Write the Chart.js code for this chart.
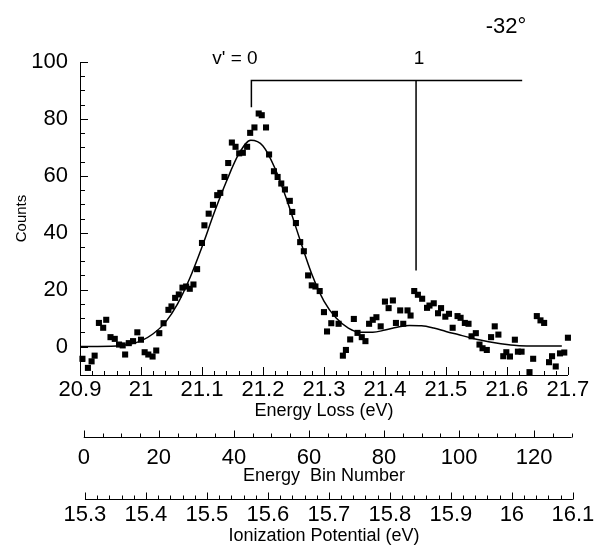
<!DOCTYPE html>
<html>
<head>
<meta charset="utf-8">
<script src="https://cdn.jsdelivr.net/npm/chart.js@4.4.0/dist/chart.umd.min.js"></script>
<style>
    html, body { margin: 0; padding: 0; background: #fff; }
</style>
</head>
<body>
<canvas id="myChart" width="599" height="547"></canvas>
<script>
// datos (Energy Loss en eV, Counts)
const energia = [
    20.904, 20.913, 20.919, 20.924, 20.931, 20.938, 20.943, 20.950, 20.957, 20.964,
    20.970, 20.974, 20.980, 20.987, 20.994, 21.000, 21.006, 21.012, 21.019, 21.025,
    21.030, 21.037, 21.045, 21.050, 21.056, 21.062, 21.068, 21.074, 21.080, 21.086,
    21.092, 21.100, 21.104, 21.111, 21.118, 21.125, 21.130, 21.137, 21.143, 21.149,
    21.155, 21.161, 21.167, 21.174, 21.179, 21.186, 21.193, 21.198, 21.205, 21.210,
    21.218, 21.224, 21.230, 21.236, 21.244, 21.248, 21.254, 21.261, 21.267, 21.274,
    21.280, 21.286, 21.293, 21.300, 21.305, 21.312, 21.318, 21.324, 21.331, 21.336,
    21.343, 21.349, 21.355, 21.362, 21.368, 21.374, 21.380, 21.386, 21.393, 21.400,
    21.406, 21.413, 21.418, 21.425, 21.430, 21.437, 21.442, 21.448, 21.454, 21.461,
    21.469, 21.473, 21.480, 21.487, 21.492, 21.499, 21.505, 21.511, 21.519, 21.524,
    21.531, 21.537, 21.542, 21.549, 21.555, 21.560, 21.567, 21.574, 21.580, 21.586,
    21.594, 21.599, 21.605, 21.613, 21.618, 21.624, 21.637, 21.643, 21.649, 21.655,
    21.661, 21.669, 21.674, 21.680, 21.687, 21.694, 21.700
];
const cuentas = [
    -4.3, -7.5, -5.2, -3.2, 8.3, 6.6, 9.4, 3.3, 2.7, 0.7,
    0.4, -2.8, 1.2, 1.9, 5.0, 2.4, -2.0, -2.8, -3.5, -1.4,
    4.7, 8.2, 12.9, 14.1, 17.1, 18.3, 20.7, 21.1, 20.3, 21.8,
    27.2, 36.4, 42.6, 46.7, 49.8, 53.2, 54.0, 59.6, 64.5, 71.7,
    70.2, 67.9, 68.1, 70.2, 75.1, 77.0, 81.9, 81.3, 77.0, 67.5,
    61.6, 59.6, 57.3, 55.2, 51.2, 47.3, 43.4, 36.7, 33.5, 25.0,
    21.5, 21.1, 19.5, 12.1, 5.3, 8.2, 11.5, 8.0, -3.2, -1.2,
    2.5, 9.7, 4.8, 3.3, 1.9, 8.0, 9.4, 10.3, 7.1, 15.8,
    13.5, 16.2, 8.3, 12.7, 8.0, 12.7, 10.9, 19.5, 18.2, 16.8,
    13.6, 14.4, 15.2, 11.7, 13.5, 10.5, 11.5, 6.6, 10.7, 10.1,
    8.3, 8.0, 3.6, 4.7, 0.7, -0.6, -1.2, 3.3, 7.1, 4.2,
    -3.4, -2.0, -3.5, 2.4, -1.8, -1.8, -9.0, -4.3, 10.7, 9.2,
    8.3, -5.5, -3.4, -7.0, -2.4, -2.1, 3.1
];

// curva de ajuste
const ajusteX = [20.90, 20.96, 20.98, 21.00, 21.02, 21.04, 21.06, 21.08, 21.10, 21.12,
    21.14, 21.16, 21.18, 21.20, 21.22, 21.24, 21.26, 21.28, 21.30, 21.32,
    21.34, 21.36, 21.38, 21.40, 21.42, 21.44, 21.46, 21.48, 21.50, 21.52,
    21.54, 21.56, 21.58, 21.60, 21.62, 21.65, 21.69];
const ajusteY = [0, 0.2, 0.8, 2, 4.5, 8.5, 15, 24, 35, 47,
    58, 67.5, 72.5, 70.5, 62.5, 51, 38, 25.5, 16, 10,
    6.5, 5, 5, 5.8, 6.8, 7.4, 7.3, 6.5, 5.3, 4.2,
    3.1, 2.1, 1.3, 0.7, 0.3, 0.2, 0.2];

// progresion vibracional v' = 0, 1
const vibX = [21.181, 21.451];
const vibBase = [84.1, 26.7];
const vibEtiquetas = ["v' = 0", "1"];
const vibEtiquetaX = [21.154, 21.456];
const vibAltura = 93.5;
const vibFinX = 21.625;

// etiquetas de los ejes
const ticksY = [0, 20, 40, 60, 80, 100];
const ticksEnergia = [20.9, 21, 21.1, 21.2, 21.3, 21.4, 21.5, 21.6, 21.7];
const ticksBin = [0, 20, 40, 60, 80, 100, 120];
const ticksIP = [15.3, 15.4, 15.5, 15.6, 15.7, 15.8, 15.9, 16, 16.1];

const fuente = "'Liberation Sans', Arial, Helvetica, sans-serif";

document.addEventListener('DOMContentLoaded', function () {
    graficar();
});

function linea(ctx, x1, y1, x2, y2) {
    ctx.beginPath();
    ctx.moveTo(x1, y1);
    ctx.lineTo(x2, y2);
    ctx.stroke();
}

function fijarTicks(valores) {
    return function (scale) {
        scale.ticks = valores.map(v => ({ value: v }));
    };
}

// marcas hacia adentro, ejes extra y textos
const pluginEjes = {
    id: 'pluginEjes',
    afterDraw(chart) {
        const ctx = chart.ctx;
        const s = chart.scales;
        ctx.save();
        ctx.strokeStyle = '#000';
        ctx.lineWidth = 1;

        // eje Y
        for (let v = -10; v <= 100; v += 5) {
            const y = Math.round(s.y.getPixelForValue(v)) + 0.5;
            const largo = v % 20 === 0 ? 8 : 5;
            linea(ctx, s.y.right, y, s.y.right + largo, y);
        }

        // eje Energy Loss
        for (let i = 0; i <= 40; i++) {
            const x = Math.round(s.x.getPixelForValue(20.9 + i * 0.02)) + 0.5;
            const largo = i % 5 === 0 ? 8 : 4;
            linea(ctx, x, s.x.top, x, s.x.top - largo);
        }

        // eje Energy Bin Number
        const yBin = Math.round(s.xBin.top) + 0.5;
        linea(ctx, s.xBin.getPixelForValue(0), yBin, s.xBin.getPixelForValue(130), yBin);
        for (let v = 0; v <= 130; v += 5) {
            const x = Math.round(s.xBin.getPixelForValue(v)) + 0.5;
            const largo = v % 20 === 0 ? 7 : 4;
            linea(ctx, x, yBin, x, yBin - largo);
        }

        // eje Ionization Potential
        const yIP = Math.round(s.xIP.top) + 0.5;
        linea(ctx, s.xIP.getPixelForValue(15.3), yIP, s.xIP.getPixelForValue(16.1), yIP);
        for (let i = 0; i <= 40; i++) {
            const x = Math.round(s.xIP.getPixelForValue(15.3 + i * 0.02)) + 0.5;
            const largo = i % 5 === 0 ? 7 : 4;
            linea(ctx, x, yIP, x, yIP - largo);
        }

        // textos
        ctx.fillStyle = '#000';
        ctx.textAlign = 'center';
        ctx.textBaseline = 'middle';
        ctx.font = '19px ' + fuente;
        vibEtiquetas.forEach((t, i) => {
            ctx.fillText(t, s.x.getPixelForValue(vibEtiquetaX[i]), 59);
        });
        ctx.font = '22px ' + fuente;
        ctx.fillText('-32°', 506, 27);
        ctx.restore();
    }
};

function graficar() {
    const puntos = energia.map((e, i) => ({ x: e, y: cuentas[i] }));
    const curva = ajusteX.map((e, i) => ({ x: e, y: ajusteY[i] }));
    const marca0 = [
        { x: vibX[0], y: vibBase[0] },
        { x: vibX[0], y: vibAltura },
        { x: vibFinX, y: vibAltura }
    ];
    const marca1 = [
        { x: vibX[1], y: vibAltura },
        { x: vibX[1], y: vibBase[1] }
    ];

    const estiloLinea = {
        showLine: true,
        borderColor: '#000',
        borderWidth: 1.5,
        pointRadius: 0,
        fill: false
    };

    const tickFont = { family: fuente, size: 22 };
    const tituloFont = { family: fuente, size: 18, lineHeight: 1 };

    const config = {
        type: 'scatter',
        data: {
            datasets: [
                Object.assign({ data: curva, cubicInterpolationMode: 'monotone' }, estiloLinea),
                Object.assign({ data: marca0 }, estiloLinea),
                Object.assign({ data: marca1 }, estiloLinea),
                {
                    data: puntos,
                    pointStyle: 'rect',
                    pointRadius: 4.3,
                    backgroundColor: '#000',
                    borderWidth: 0,
                    clip: false
                }
            ]
        },
        plugins: [pluginEjes],
        options: {
            responsive: false,
            animation: false,
            events: [],
            layout: { padding: { top: 62, right: 27, bottom: 2, left: 0 } },
            plugins: {
                legend: { display: false },
                tooltip: { enabled: false }
            },
            scales: {
                y: {
                    type: 'linear',
                    min: -10,
                    max: 100,
                    afterBuildTicks: fijarTicks(ticksY),
                    afterFit: s => { s.width = 80; },
                    grid: { display: false, drawTicks: false },
                    border: { display: true, color: '#000', width: 1 },
                    ticks: { font: { family: fuente, size: 22, lineHeight: 1 }, color: '#000', padding: 12 },
                    title: {
                        display: true, text: 'Counts', color: '#000',
                        font: { family: fuente, size: 15, lineHeight: 1 },
                        padding: { top: 14, bottom: 0 }
                    }
                },
                x: {
                    type: 'linear',
                    position: 'bottom',
                    weight: 0,
                    min: 20.9,
                    max: 21.7,
                    afterBuildTicks: fijarTicks(ticksEnergia),
                    afterFit: s => { s.height = 62; },
                    grid: { display: false, drawTicks: false },
                    border: { display: true, color: '#000', width: 1 },
                    ticks: {
                        font: { family: fuente, size: 22, lineHeight: 1 }, color: '#000', padding: 4,
                        autoSkip: false, maxRotation: 0,
                        callback: v => String(+v.toFixed(2))
                    },
                    title: {
                        display: true, text: 'Energy Loss (eV)', color: '#000',
                        font: tituloFont, padding: { top: 0, bottom: 17 }
                    }
                },
                xBin: {
                    type: 'linear',
                    position: 'bottom',
                    weight: 1,
                    min: -1,
                    max: 129,
                    afterBuildTicks: fijarTicks(ticksBin),
                    afterFit: s => { s.height = 62; },
                    grid: { display: false, drawTicks: false },
                    border: { display: false },
                    ticks: {
                        font: { family: fuente, size: 22, lineHeight: 1 }, color: '#000', padding: 10,
                        autoSkip: false, maxRotation: 0
                    },
                    title: {
                        display: true, text: 'Energy  Bin Number', color: '#000',
                        font: tituloFont, padding: { top: 0, bottom: 14 }
                    }
                },
                xIP: {
                    type: 'linear',
                    position: 'bottom',
                    weight: 2,
                    min: 15.2919,
                    max: 16.0919,
                    afterBuildTicks: fijarTicks(ticksIP),
                    afterFit: s => { s.height = 46; },
                    grid: { display: false, drawTicks: false },
                    border: { display: false },
                    ticks: {
                        font: { family: fuente, size: 22, lineHeight: 1 }, color: '#000', padding: 5,
                        autoSkip: false, maxRotation: 0,
                        callback: v => String(+v.toFixed(2))
                    },
                    title: {
                        display: true, text: 'Ionization Potential (eV)', color: '#000',
                        font: tituloFont, padding: { top: 0, bottom: 0 }
                    }
                }
            }
        }
    };

    const ctx = document.getElementById('myChart').getContext('2d');
    new Chart(ctx, config);
}
</script>
</body>
</html>
